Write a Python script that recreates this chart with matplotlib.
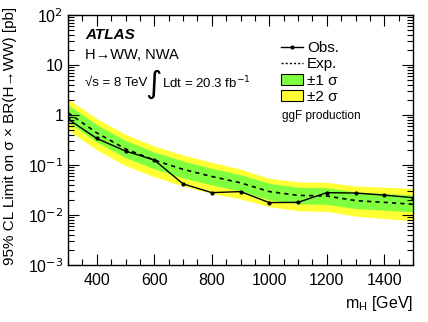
import numpy as np
import matplotlib.pyplot as plt
from matplotlib.lines import Line2D
from matplotlib.patches import Patch
from matplotlib.ticker import FixedLocator, MultipleLocator, LogLocator, NullFormatter

plt.rcParams['font.family'] = ['Liberation Sans', 'DejaVu Sans']

# mass points [GeV]
mass = [300, 400, 500, 600, 700, 800, 900, 1000, 1100, 1200, 1300, 1400, 1500]

# limits [pb]
obs = [0.83, 0.34, 0.19, 0.126, 0.042, 0.028, 0.0294, 0.0177, 0.0179, 0.028, 0.0275, 0.025, 0.0222]
exp = [1.11, 0.44, 0.21, 0.125, 0.082, 0.059, 0.044, 0.0294, 0.0247, 0.024, 0.0194, 0.0179, 0.0164]
exp_p1 = [1.60, 0.64, 0.31, 0.182, 0.120, 0.086, 0.064, 0.043, 0.036, 0.035, 0.029, 0.027, 0.025]
exp_m1 = [0.72, 0.29, 0.14, 0.084, 0.055, 0.040, 0.030, 0.020, 0.0168, 0.0163, 0.0134, 0.0125, 0.0116]
exp_p2 = [2.10, 0.85, 0.41, 0.240, 0.158, 0.113, 0.083, 0.054, 0.046, 0.045, 0.038, 0.036, 0.034]
exp_m2 = [0.50, 0.20, 0.097, 0.058, 0.038, 0.027, 0.021, 0.0147, 0.0122, 0.0118, 0.0095, 0.0085, 0.0076]

yticks = [1e-3, 1e-2, 1e-1, 1, 10, 100]
ylabels = ['10$^{-3}$', '10$^{-2}$', '10$^{-1}$', '1', '10', '10$^{2}$']

green = '#80ff40'
yellow = '#ffff33'

fig = plt.figure(figsize=(4.28, 3.22), dpi=100)
ax = fig.add_axes([68/428, 57/322, 345/428, 250/322])

ax.fill_between(mass, exp_m2, exp_p2, color=yellow, lw=0)
ax.fill_between(mass, exp_m1, exp_p1, color=green, lw=0)
ax.plot(mass, exp, color='black', ls=(0, (2.5, 2.5)), lw=1.2)
ax.plot(mass, obs, color='black', lw=1.0, marker='o', ms=2)

ax.set_yscale('log')
ax.set_xlim(300, 1500)
ax.set_ylim(1e-3, 1e2)

ax.set_yticks(yticks)
ax.set_yticklabels(ylabels)
ax.yaxis.set_minor_locator(LogLocator(base=10, subs=np.arange(2, 10)))
ax.yaxis.set_minor_formatter(NullFormatter())
ax.xaxis.set_major_locator(FixedLocator([400, 600, 800, 1000, 1200, 1400]))
ax.xaxis.set_minor_locator(MultipleLocator(50))

ax.tick_params(which='both', direction='in', top=True, right=True, labelsize=11.5)
ax.tick_params(which='major', length=8, width=0.8)
ax.tick_params(which='minor', length=4, width=0.8)
ax.tick_params(axis='x', pad=6)
for s in ax.spines.values():
    s.set_linewidth(1.0)

ax.set_xlabel('m$_\\mathregular{H}$ [GeV]', fontsize=11.5, loc='right')
ax.set_ylabel('95% CL Limit on σ × BR(H→WW) [pb]', fontsize=11)
ax.yaxis.set_label_coords(-0.148, 0.516)

ax.text(0.05, 0.92, 'ATLAS', transform=ax.transAxes, fontsize=11,
        fontweight='bold', style='italic', va='center')
ax.text(0.05, 0.84, 'H→WW, NWA', transform=ax.transAxes, fontsize=10.5, va='center')
ax.text(0.05, 0.728, '√s = 8 TeV', transform=ax.transAxes, fontsize=9.5, va='center')
ax.text(0.247, 0.722, '$\\int$', transform=ax.transAxes, fontsize=16, va='center', ha='center')
ax.text(0.272, 0.728, 'Ldt = 20.3 fb$^{-1}$', transform=ax.transAxes, fontsize=9.5, va='center')

handles = [Line2D([], [], color='black', lw=1.0, marker='o', ms=2),
           Line2D([], [], color='black', ls=(0, (1.5, 1.5)), lw=1.0),
           Patch(facecolor=green, edgecolor='black', lw=0.8),
           Patch(facecolor=yellow, edgecolor='black', lw=0.8)]
labels = ['Obs.', 'Exp.', '±1 σ', '±2 σ']
ax.legend(handles, labels, loc='upper left', bbox_to_anchor=(0.6, 0.92), frameon=False,
          fontsize=11, handlelength=1.4, handletextpad=0.3, labelspacing=0.15,
          borderaxespad=0)
ax.text(0.62, 0.595, 'ggF production', transform=ax.transAxes, fontsize=8.5, va='center')

fig.savefig('out.png', dpi=100)
